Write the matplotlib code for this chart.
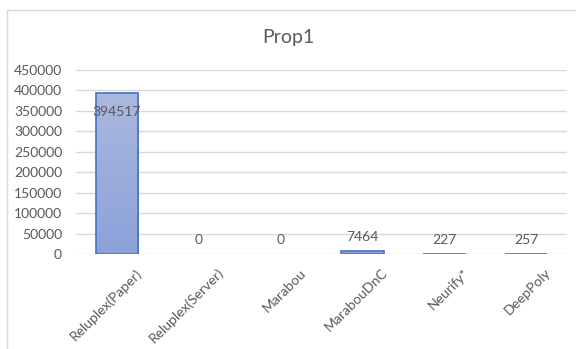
import numpy as np
import matplotlib.pyplot as plt
from matplotlib.lines import Line2D
from matplotlib.transforms import ScaledTranslation

plt.rcParams['font.family'] = ['Lato', 'DejaVu Sans']

# verification times for property 1
tools = ["Reluplex(Paper)", "Reluplex(Server)", "Marabou", "MarabouDnC", "Neurify*", "DeepPoly"]
times = [394517, 0, 0, 7464, 227, 257]
yticks = [0, 50000, 100000, 150000, 200000, 250000, 300000, 350000, 400000, 450000]

W, H = 576, 349
fig = plt.figure(figsize=(W / 100, H / 100), dpi=100)

# chart frame (top and left edges)
fig.add_artist(Line2D([7 / W, 1], [1 - 10 / H, 1 - 10 / H], color="#d9d9d9", lw=1.0))
fig.add_artist(Line2D([7 / W, 7 / W], [0, 1 - 10 / H], color="#d9d9d9", lw=1.0))

ax = fig.add_axes([76 / W, 95 / H, (567 - 76) / W, (254 - 70) / H])
x = np.arange(len(tools))
bars = ax.bar(x, times, width=0.52, color="none", edgecolor="#4472c4", linewidth=1.2, zorder=3)
for b, v in zip(bars, times):
    if v == 0:
        b.set_linewidth(0)

# vertical gradient fill for each bar
grad = np.linspace(0, 1, 256).reshape(-1, 1)
top_c = np.array([0xab, 0xb8, 0xdf]) / 255
bot_c = np.array([0x8c, 0xa2, 0xd9]) / 255
img = top_c * (1 - grad[..., None]) + bot_c * grad[..., None]
for b in bars:
    bx, by = b.get_x(), b.get_y()
    bw, bh = b.get_width(), b.get_height()
    if bh <= 0:
        continue
    im = ax.imshow(img, extent=[bx, bx + bw, by, by + bh], aspect="auto", zorder=2,
                   origin="upper")
    im.set_clip_path(b)

ax.set_xlim(-0.5, len(tools) - 0.5)
ax.set_ylim(0, 450000)
ax.set_yticks(yticks)
ax.set_yticklabels([str(v) for v in yticks])
ax.grid(axis="y", color="#d9d9d9", lw=1.0, zorder=0)
for s in ax.spines.values():
    s.set_visible(False)
ax.tick_params(axis="both", length=0, colors="#595959", labelsize=10)
ax.tick_params(axis="y", pad=10)
ax.set_xticks(x)
ax.set_xticklabels(tools, rotation=45, ha="right", va="center", rotation_mode="anchor",
                   fontsize=10)
ax.tick_params(axis="x", pad=12)
# nudge the slanted labels so they end under the bar centre
shift = ScaledTranslation(0.23, 0, fig.dpi_scale_trans)
for lbl in ax.get_xticklabels():
    lbl.set_transform(lbl.get_transform() + shift)

for xi, v in zip(x, times):
    if v > 200000:
        ax.annotate(str(v), (xi, v), xytext=(0, -14), textcoords="offset points",
                    ha="center", va="center", color="#595959", fontsize=10, zorder=4)
    else:
        ax.annotate(str(v), (xi, v), xytext=(0, 10), textcoords="offset points",
                    ha="center", va="center", color="#595959", fontsize=10, zorder=4)

fig.text(288 / W, 1 - 37 / H, "Prop1", ha="center", va="center", color="#595959", fontsize=14)

fig.savefig("out.png", dpi=100)
